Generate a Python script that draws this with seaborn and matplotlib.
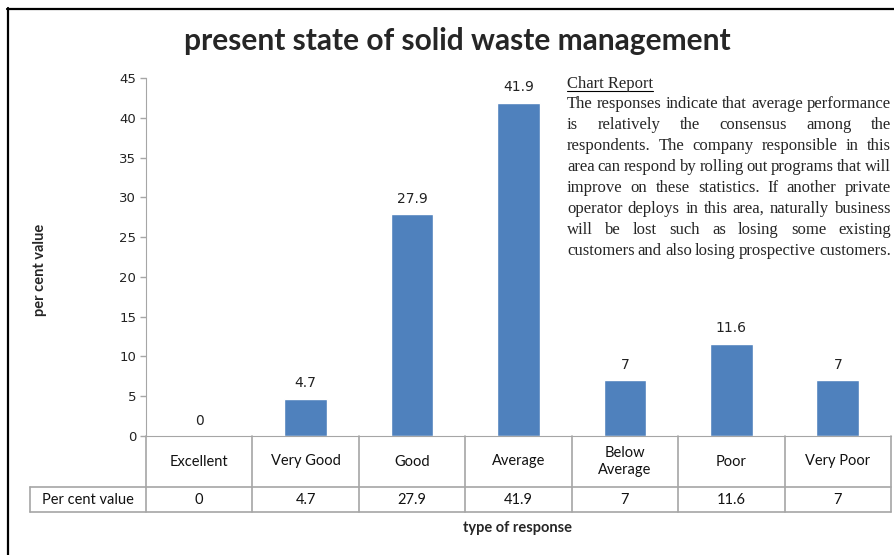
import matplotlib
matplotlib.use("Agg")
import matplotlib.pyplot as plt
import seaborn as sns
from matplotlib.lines import Line2D

# Data
categories = ["Excellent", "Very Good", "Good", "Average", "Below\nAverage", "Poor", "Very Poor"]
values = [0, 4.7, 27.9, 41.9, 7, 11.6, 7]
value_labels = ["0", "4.7", "27.9", "41.9", "7", "11.6", "7"]
yticks = [0, 5, 10, 15, 20, 25, 30, 35, 40, 45]

title = "present state of solid waste management"
report_title = "Chart Report"
report_lines = [
    "The responses indicate that average performance",
    "is relatively the consensus among the",
    "respondents. The company responsible in this",
    "area can respond by rolling out programs that will",
    "improve on these statistics. If another private",
    "operator deploys in this area, naturally business",
    "will be lost such as losing some existing",
    "customers and also losing prospective customers.",
]

BAR = "#4F81BD"
GRID = "#A6A6A6"
W, H = 895, 555

sns.set_style("white")
plt.rcParams["font.family"] = ["Lato", "DejaVu Sans"]

fig = plt.figure(figsize=(W / 100, H / 100), dpi=100)
ax = fig.add_axes([146 / W, 1 - 436 / H, 745 / W, 358 / H])

sns.barplot(x=list(range(len(values))), y=values, color=BAR, saturation=1,
            width=0.4, ax=ax)
ax.set_xlim(-0.5, len(values) - 0.5)
ax.set_ylim(0, 45)
ax.set_yticks(yticks)
ax.set_xticks([])
ax.tick_params(axis="y", direction="out", length=4, width=1, color=GRID,
               labelcolor="#222222", pad=3, left=True)
for lab in ax.get_yticklabels():
    lab.set_fontfamily("DejaVu Sans")
    lab.set_fontsize(9.5)
for s in ["top", "right"]:
    ax.spines[s].set_visible(False)
ax.spines["left"].set_color(GRID)
ax.spines["bottom"].set_color(GRID)
ax.set_xlabel("")
ax.set_ylabel("")

# data labels
ax.bar_label(ax.containers[0], labels=value_labels, padding=6,
             fontsize=10, family="DejaVu Sans", color="#222222")

# data table under the axis
xt = ax.get_xaxis_transform()
row1 = -51 / 358
row2 = -76 / 358
left_cell = -0.5 - 116 / (745 / 7)
n = len(values)
kw = dict(color=GRID, lw=1.2, transform=xt, clip_on=False)
ax.plot([-0.5, n - 0.5], [row1, row1], **kw)
ax.plot([left_cell, n - 0.5], [row2, row2], **kw)
ax.plot([left_cell, -0.5], [row1, row1], **kw)
ax.plot([left_cell, left_cell], [row1, row2], **kw)
for i in range(n + 1):
    ax.plot([i - 0.5, i - 0.5], [0, row2], **kw)
for i, cat in enumerate(categories):
    ax.text(i, row1 / 2, cat, transform=xt, ha="center", va="center",
            fontsize=10.5, color="#111111", linespacing=1.35)
    ax.text(i, (row1 + row2) / 2, value_labels[i], transform=xt,
            ha="center", va="center", fontsize=10.5, color="#111111")
ax.text((left_cell - 0.5) / 2, (row1 + row2) / 2, "Per cent value",
        transform=xt, ha="center", va="center", fontsize=10.5, color="#111111")

# axis titles and chart title
fig.text(518 / W, 1 - 528 / H, "type of response", ha="center", va="center",
         fontsize=10.5, fontweight="bold")
fig.text(40 / W, 1 - 270 / H, "per cent value", ha="center", va="center",
         rotation=90, fontsize=10.5, fontweight="bold")
fig.text(457 / W, 1 - 41 / H, title, ha="center", va="center",
         fontsize=21.5, fontweight="bold")

# justified report text
serif = ["Liberation Serif", "DejaVu Serif"]
fig.canvas.draw()
renderer = fig.canvas.get_renderer()
x0, x1 = 567, 891
fs = 12


def width_px(s):
    t = fig.text(0, 0, s, fontsize=fs, family=serif)
    w = t.get_window_extent(renderer).width
    t.remove()
    return w


rt = fig.text(x0 / W, 1 - 88 / H, report_title, fontsize=fs, family=serif,
              va="baseline", ha="left")
ext = rt.get_window_extent(renderer)
fig.add_artist(Line2D([x0 / W, (x0 + ext.width) / W],
                      [1 - 90.5 / H, 1 - 90.5 / H], color="black", lw=0.8))

for k, line in enumerate(report_lines):
    y = 1 - (108 + k * 21) / H
    words = line.split()
    ws = [width_px(w) for w in words]
    gap = (x1 - x0 - sum(ws)) / (len(words) - 1)
    if k == len(report_lines) - 1:
        gap = min(gap, width_px("a b") - width_px("ab"))
    x = x0
    for w, wd in zip(words, ws):
        fig.text(x / W, y, w, fontsize=fs, family=serif, va="baseline")
        x += wd + gap

# outer frame (left and top edges)
fig.add_artist(Line2D([8 / W, 8 / W], [0, 1 - 8 / H], color="black", lw=1.6))
fig.add_artist(Line2D([7 / W, 1], [1 - 9 / H, 1 - 9 / H], color="black", lw=1.6))

fig.savefig("out.png", dpi=100)
